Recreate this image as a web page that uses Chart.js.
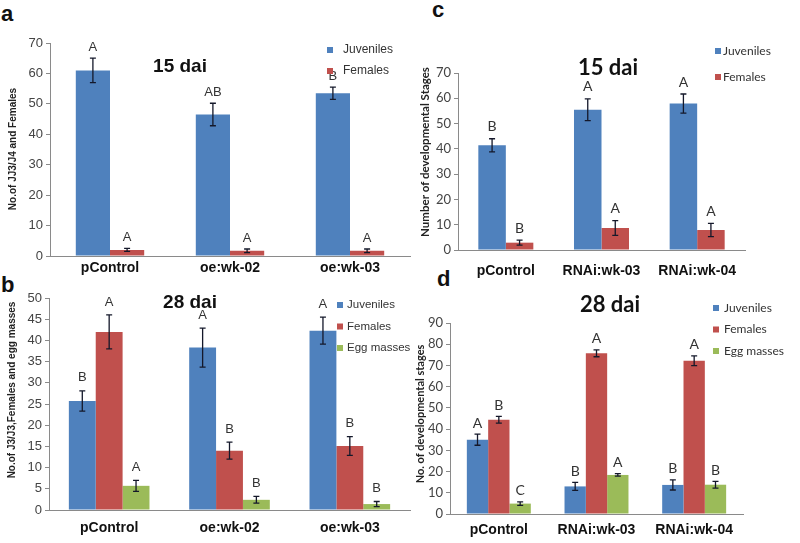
<!DOCTYPE html>
<html>
<head>
<meta charset="utf-8">
<script src="https://cdn.jsdelivr.net/npm/chart.js@4"></script>
<style>
  body { margin: 0; background: #fff; width: 800px; height: 543px; position: relative; overflow: hidden; }
  canvas { position: absolute; }
  .tag { position: absolute; font: bold 22px "Liberation Sans", Arial, sans-serif; line-height: 22px; color: #111; }
</style>
</head>
<body>
<div class="tag" style="left:1px;top:3px">a</div>
<div class="tag" style="left:1px;top:274px">b</div>
<div class="tag" style="left:432px;top:-1px">c</div>
<div class="tag" style="left:437px;top:268px">d</div>

<canvas id="chartA" width="412" height="285" style="left:0;top:0"></canvas>
<canvas id="chartB" width="412" height="271" style="left:0;top:272px"></canvas>
<canvas id="chartC" width="400" height="290" style="left:400px;top:0"></canvas>
<canvas id="chartD" width="400" height="263" style="left:400px;top:280px"></canvas>

<script>
// ---- panel a : 15 dai, over-expression lines ----
const catsA = ['pControl', 'oe:wk-02', 'oe:wk-03'];
const juvA = [61, 46.5, 53.5];
const juvErrA = [4, 3.7, 2];
const juvLetA = ['A', 'AB', 'B'];
const femA = [2, 1.7, 1.7];
const femErrA = [0.5, 0.6, 0.6];
const femLetA = ['A', 'A', 'A'];

// ---- panel b : 28 dai, over-expression lines ----
const catsB = ['pControl', 'oe:wk-02', 'oe:wk-03'];
const juvB = [25.7, 38.3, 42.3];
const juvErrB = [2.4, 4.6, 3.2];
const juvLetB = ['B', 'A', 'A'];
const femB = [42, 14, 15.1];
const femErrB = [4, 2, 2.2];
const femLetB = ['A', 'B', 'B'];
const eggB = [5.7, 2.4, 1.4];
const eggErrB = [1.3, 0.8, 0.6];
const eggLetB = ['A', 'B', 'B'];

// ---- panel c : 15 dai, RNAi lines ----
const catsC = ['pControl', 'RNAi:wk-03', 'RNAi:wk-04'];
const juvC = [41.4, 55.5, 57.9];
const juvErrC = [2.6, 4.3, 3.8];
const juvLetC = ['B', 'A', 'A'];
const femC = [2.9, 8.7, 7.9];
const femErrC = [1, 2.9, 2.6];
const femLetC = ['B', 'A', 'A'];

// ---- panel d : 28 dai, RNAi lines ----
const catsD = ['pControl', 'RNAi:wk-03', 'RNAi:wk-04'];
const juvD = [35, 13, 13.7];
const juvErrD = [2.6, 1.9, 2.4];
const juvLetD = ['A', 'B', 'B'];
const femD = [44.4, 75.7, 72.2];
const femErrD = [1.6, 1.6, 2.3];
const femLetD = ['B', 'A', 'A'];
const eggD = [4.9, 18.4, 13.8];
const eggErrD = [0.8, 0.6, 1.6];
const eggLetD = ['C', 'A', 'B'];

const BLUE = '#4F81BD', RED = '#C0504D', GREEN = '#9BBB59';
const ARIAL = '"Liberation Sans", Arial, sans-serif';
const CALIBRI = 'Lato, "Liberation Sans", sans-serif';

// error bars, letters, title, legend and y title
const annot = {
  id: 'annot',
  afterDatasetsDraw(chart, args, o) {
    const ctx = chart.ctx;
    const y = chart.scales.y;
    ctx.save();
    chart.data.datasets.forEach((ds, i) => {
      chart.getDatasetMeta(i).data.forEach((bar, j) => {
        const hi = y.getPixelForValue(ds.data[j] + ds.err[j]);
        const lo = y.getPixelForValue(ds.data[j] - ds.err[j]);
        ctx.strokeStyle = '#14182a';
        ctx.lineWidth = 1.3;
        ctx.beginPath();
        ctx.moveTo(bar.x, hi); ctx.lineTo(bar.x, lo);
        ctx.moveTo(bar.x - 3, hi); ctx.lineTo(bar.x + 3, hi);
        ctx.moveTo(bar.x - 3, lo); ctx.lineTo(bar.x + 3, lo);
        ctx.stroke();
        ctx.fillStyle = '#333';
        ctx.font = o.letterFont;
        ctx.textAlign = 'center';
        ctx.textBaseline = 'middle';
        ctx.fillText(ds.letters[j], bar.x, hi - o.gap);
      });
    });

    ctx.fillStyle = '#111';
    ctx.font = o.titleFont;
    ctx.textAlign = 'center';
    ctx.fillText(o.title, o.titleX, o.titleY);

    ctx.font = o.legendFont;
    ctx.textAlign = 'left';
    chart.data.datasets.forEach((ds, i) => {
      const ly = o.legendY + i * o.legendStep;
      ctx.fillStyle = ds.backgroundColor;
      ctx.fillRect(o.legendX, ly - 3, 6, 6);
      ctx.fillStyle = '#333';
      ctx.fillText(ds.label, o.legendX + o.legendGap, ly);
    });

    ctx.translate(o.yTitleX, o.yTitleY);
    ctx.rotate(-Math.PI / 2);
    ctx.font = o.yTitleFont;
    ctx.fillStyle = '#222';
    ctx.textAlign = 'center';
    ctx.fillText(o.yTitle, 0, 0);
    ctx.restore();
  }
};

function makeSet(label, data, err, letters, color) {
  return { label, data, err, letters, backgroundColor: color, borderWidth: 0 };
}

function drawPanel(id, cats, datasets, p) {
  new Chart(document.getElementById(id), {
    type: 'bar',
    data: { labels: cats, datasets },
    plugins: [annot],
    options: {
      responsive: false,
      animation: false,
      devicePixelRatio: 1,
      categoryPercentage: p.catPct,
      barPercentage: 1,
      layout: { padding: { top: p.top, right: p.right, left: 0, bottom: 0 } },
      plugins: {
        legend: { display: false },
        tooltip: { enabled: false },
        annot: p.annot
      },
      scales: {
        x: {
          grid: { display: false, drawTicks: false },
          border: { display: true, color: '#8a8a8a', width: 1 },
          ticks: { color: '#111', padding: p.xPad, font: { family: ARIAL, size: 14, weight: 'bold' }, maxRotation: 0 },
          afterFit: s => { s.height = p.xH; }
        },
        y: {
          min: 0,
          max: p.max,
          grid: { display: true, drawOnChartArea: false, drawTicks: true, tickLength: 4, color: '#8a8a8a' },
          border: { display: true, color: '#8a8a8a', width: 1 },
          ticks: { stepSize: p.step, color: '#444', padding: 3, font: { family: p.tickFamily, size: 13 } },
          afterFit: s => { s.width = p.yW; }
        }
      }
    }
  });
}

drawPanel('chartA', catsA, [
  makeSet('Juveniles', juvA, juvErrA, juvLetA, BLUE),
  makeSet('Females', femA, femErrA, femLetA, RED)
], {
  catPct: 0.57, top: 43, right: 2, xH: 29, xPad: 4, yW: 50, max: 70, step: 10, tickFamily: ARIAL,
  annot: {
    gap: 11, letterFont: '13px ' + ARIAL,
    title: '15 dai', titleFont: 'bold 19px ' + ARIAL, titleX: 180, titleY: 67,
    legendX: 327, legendY: 50, legendStep: 21, legendGap: 16, legendFont: '12px ' + ARIAL,
    yTitle: 'No.of JJ3/J4 and Females', yTitleFont: 'bold 10px ' + ARIAL, yTitleX: 13, yTitleY: 149
  }
});

drawPanel('chartB', catsB, [
  makeSet('Juveniles', juvB, juvErrB, juvLetB, BLUE),
  makeSet('Females', femB, femErrB, femLetB, RED),
  makeSet('Egg masses', eggB, eggErrB, eggLetB, GREEN)
], {
  catPct: 0.67, top: 26, right: 2, xH: 33, xPad: 10, yW: 49, max: 50, step: 5, tickFamily: ARIAL,
  annot: {
    gap: 13, letterFont: '13px ' + ARIAL,
    title: '28 dai', titleFont: 'bold 19px ' + ARIAL, titleX: 190, titleY: 31,
    legendX: 337, legendY: 33, legendStep: 21.5, legendGap: 10, legendFont: '11.5px ' + ARIAL,
    yTitle: 'No.of J3/J3,Females and egg masses', yTitleFont: 'bold 10px ' + ARIAL, yTitleX: 12, yTitleY: 118
  }
});

drawPanel('chartC', catsC, [
  makeSet('Juveniles', juvC, juvErrC, juvLetC, BLUE),
  makeSet('Females', femC, femErrC, femLetC, RED)
], {
  catPct: 0.575, top: 73, right: 55, xH: 40, xPad: 13, yW: 58, max: 70, step: 10, tickFamily: CALIBRI,
  annot: {
    gap: 12, letterFont: '14px ' + CALIBRI,
    title: '15 dai', titleFont: 'bold 22px ' + CALIBRI, titleX: 208, titleY: 68,
    legendX: 315, legendY: 51, legendStep: 26, legendGap: 8, legendFont: '12px ' + CALIBRI,
    yTitle: 'Number of developmental Stages', yTitleFont: 'bold 11.5px ' + CALIBRI, yTitleX: 25, yTitleY: 152
  }
});

drawPanel('chartD', catsD, [
  makeSet('Juveniles', juvD, juvErrD, juvLetD, BLUE),
  makeSet('Females', femD, femErrD, femLetD, RED),
  makeSet('Egg masses', eggD, eggErrD, eggLetD, GREEN)
], {
  catPct: 0.655, top: 43, right: 57, xH: 29, xPad: 8, yW: 50, max: 90, step: 10, tickFamily: CALIBRI,
  annot: {
    gap: 11, letterFont: '14px ' + CALIBRI,
    title: '28 dai', titleFont: 'bold 22px ' + CALIBRI, titleX: 210, titleY: 25,
    legendX: 313, legendY: 28, legendStep: 21.5, legendGap: 11, legendFont: '12px ' + CALIBRI,
    yTitle: 'No. of developmental stages', yTitleFont: 'bold 11px ' + CALIBRI, yTitleX: 20, yTitleY: 134
  }
});
</script>
</body>
</html>
